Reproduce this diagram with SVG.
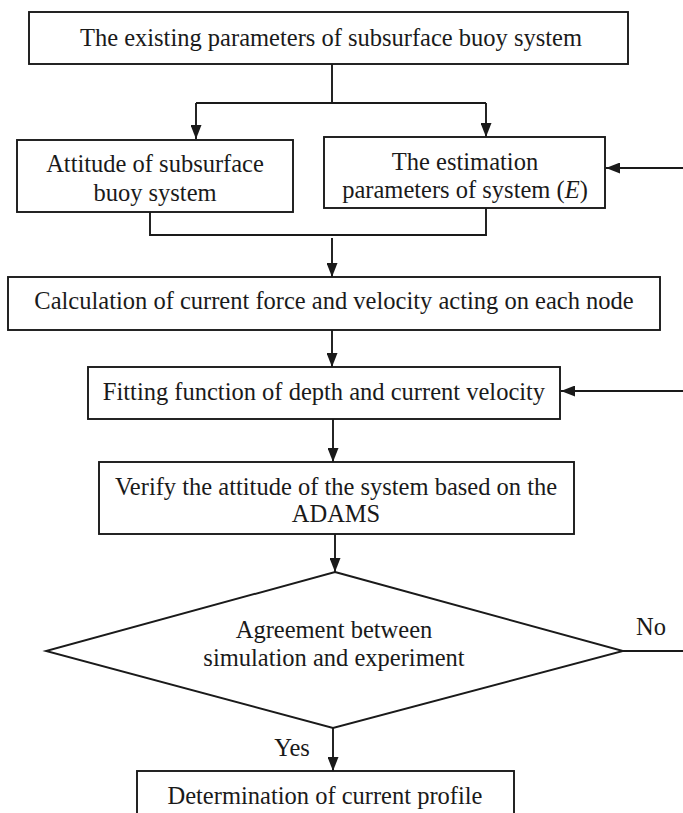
<svg xmlns="http://www.w3.org/2000/svg" width="683" height="813" viewBox="0 0 683 813">
  <style>
    .box { fill: #ffffff; stroke: #1a1a1a; stroke-width: 1.9; }
    .lbl { font-family: "Liberation Serif", "Times New Roman", serif; font-size: 24.5px; fill: #1a1a1a; text-anchor: middle; }
    .wire { fill: none; stroke: #1a1a1a; stroke-width: 1.9; }
    .arrow { fill: none; stroke: #1a1a1a; stroke-width: 1.9; marker-end: url(#head); }
  </style>
  <defs>
    <marker id="head" viewBox="0 0 14 11" refX="14" refY="5.5" markerWidth="14" markerHeight="11" markerUnits="userSpaceOnUse" orient="auto">
      <path d="M0,0 L14,5.5 L0,11 z" fill="#1a1a1a"/>
    </marker>
  </defs>
  <rect width="683" height="813" fill="#ffffff"/>

  <!-- connectors -->
  <g id="connectors">
    <path class="wire" d="M332,64 V103 M196,103 H486"/>
    <path class="arrow" d="M196,103 V139"/>
    <path class="arrow" d="M486,103 V137"/>
    <path class="arrow" d="M683,168 H606"/>
    <path class="wire" d="M150,212 V235 H486 V208"/>
    <path class="arrow" d="M332,238 V277"/>
    <path class="arrow" d="M332,330 V367"/>
    <path class="arrow" d="M683,391 H561"/>
    <path class="arrow" d="M333,419 V462"/>
    <path class="arrow" d="M335,534 V572"/>
    <path class="wire" d="M623,651 H683"/>
    <path class="arrow" d="M333,728 V771"/>
    <text class="lbl" x="651" y="635">No</text>
    <text class="lbl" x="292" y="756">Yes</text>
  </g>

  <g id="existing-parameters">
    <rect class="box" x="29" y="12" width="599" height="52"/>
    <text class="lbl" x="331" y="46">The existing parameters of subsurface buoy system</text>
  </g>

  <g id="attitude">
    <rect class="box" x="17" y="140" width="276" height="72"/>
    <text class="lbl" x="155" y="172">Attitude of subsurface</text>
    <text class="lbl" x="155" y="201">buoy system</text>
  </g>

  <g id="estimation">
    <rect class="box" x="324" y="137" width="281" height="71"/>
    <text class="lbl" x="465" y="170">The estimation</text>
    <text class="lbl" x="465" y="198">parameters of system (<tspan font-style="italic">E</tspan>)</text>
  </g>

  <g id="calculation">
    <rect class="box" x="8" y="277" width="652" height="53"/>
    <text class="lbl" x="334" y="309">Calculation of current force and velocity acting on each node</text>
  </g>

  <g id="fitting">
    <rect class="box" x="88" y="367" width="472" height="52"/>
    <text class="lbl" x="324" y="400">Fitting function of depth and current velocity</text>
  </g>

  <g id="verify">
    <rect class="box" x="99" y="462" width="475" height="72"/>
    <text class="lbl" x="336" y="495">Verify the attitude of the system based on the</text>
    <text class="lbl" x="336" y="522">ADAMS</text>
  </g>

  <g id="agreement">
    <polygon class="box" points="335,572 623,651 333,728 46,651"/>
    <text class="lbl" x="334" y="638">Agreement between</text>
    <text class="lbl" x="334" y="666">simulation and experiment</text>
  </g>

  <g id="current-profile">
    <rect class="box" x="137" y="771" width="377" height="60"/>
    <text class="lbl" x="325" y="804">Determination of current profile</text>
  </g>
</svg>
